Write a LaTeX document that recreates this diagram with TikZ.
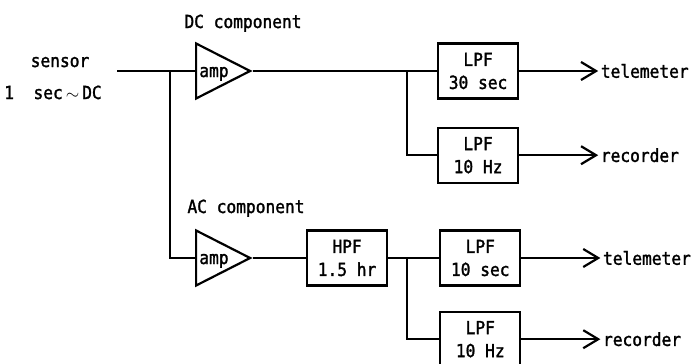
\documentclass[tikz,border=0pt]{standalone}
\usepackage{fontspec}
\setmainfont{DejaVu Sans Mono}[FakeStretch=0.9, FakeBold=1.6]
\usetikzlibrary{shapes.geometric, arrows.meta, positioning}

\begin{document}
\begin{tikzpicture}[
    x=1pt, y=-1pt,
    every node/.style={font=\fontsize{18pt}{23pt}\selectfont},
    block/.style={rectangle, draw, line width=2.2pt, minimum width=80pt, minimum height=55pt, inner sep=0pt, align=center},
    amp/.style={isosceles triangle, isosceles triangle stretches, draw, line width=2.2pt, minimum width=55pt, minimum height=54pt, inner sep=0pt},
    sink/.style={inner sep=2.5pt, anchor=west},
    wire/.style={line width=2.2pt},
    arrow/.style={-{Straight Barb[length=15pt, width=18pt]}, line width=2.2pt}
]
\useasboundingbox (0,0) rectangle (691,364);
% DC branch
\node[amp, anchor=lower side] (ampdc) at (195,71) {};
\node[anchor=base] (ampdctext) at (214,77) {amp};
\node[block, right=184pt of ampdc.apex] (lpftel) {LPF\\30 sec};
\node[block, below=27pt of lpftel] (lpfrec) {LPF\\10 Hz};
\node[sink, right=79pt of lpftel] (tel) {telemeter};
\node[sink, right=79pt of lpfrec] (rec) {recorder};
% AC branch
\node[amp, anchor=lower side] (ampac) at (195,258) {};
\node[anchor=base] (ampactext) at (214,264) {amp};
\node[block, right=53pt of ampac.apex] (hpf) {HPF\\1.5 hr};
\node[block, right=51pt of hpf] (lpftelac) {LPF\\10 sec};
\node[block, below=24pt of lpftelac] (lpfrecac) {LPF\\10 Hz};
\node[sink, right=79pt of lpftelac] (telac) {telemeter};
\node[sink, right=79pt of lpfrecac] (recac) {recorder};
% labels
\node[anchor=base] (sensor) at (60,67) {sensor};
\node[anchor=base] (range) at (53,99) {1\ \ sec\,$\sim$\,DC};
\node[anchor=base] (dclabel) at (243,28) {DC component};
\node[anchor=base] (aclabel) at (246,213) {AC component};
% wiring
\coordinate (sensorin) at (117,71);
\coordinate (split) at (170,71);
\coordinate (dcsplit) at (407,71);
\coordinate (acsplit) at (407,258);
\draw[wire] (sensorin) -- (ampdc.lower side);
\draw[wire] (split) |- (ampac.lower side);
\draw[wire] (ampdc.apex) -- (lpftel.west);
\draw[wire] (dcsplit) |- (lpfrec.west);
\draw[arrow] (lpftel.east) -- (tel.west);
\draw[arrow] (lpfrec.east) -- (rec.west);
\draw[wire] (ampac.apex) -- (hpf.west);
\draw[wire] (hpf.east) -- (lpftelac.west);
\draw[wire] (acsplit) |- (lpfrecac.west);
\draw[arrow] (lpftelac.east) -- (telac.west);
\draw[arrow] (lpfrecac.east) -- (recac.west);
\end{tikzpicture}
\end{document}
